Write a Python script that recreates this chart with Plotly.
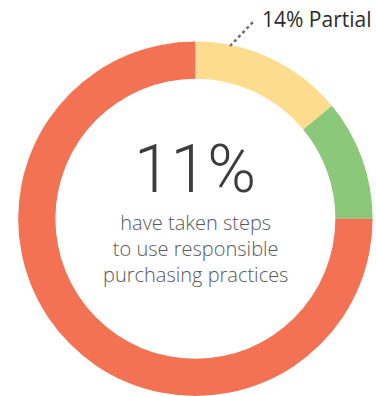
import plotly.graph_objects as go

# Share of respondents by purchasing-practice status
categories = ["Partial", "Have taken steps", "Not yet"]
shares = [14, 11, 75]
colors = ["#FEDC8E", "#8CC879", "#F37253"]

headline = "11%"
subtitle_lines = ["have taken steps", "to use responsible", "purchasing practices"]
callout = "14% Partial"

W, H = 376, 396

fig = go.Figure(
    go.Pie(
        labels=categories,
        values=shares,
        hole=0.79,
        sort=False,
        direction="clockwise",
        rotation=0,
        marker=dict(colors=colors, line=dict(width=0)),
        textinfo="none",
        hoverinfo="label+percent",
        showlegend=False,
        domain=dict(x=[0.0463, 0.993], y=[0.0, 0.895]),
    )
)

fig.add_annotation(
    text=headline, x=0.519, y=0.573, xref="paper", yref="paper",
    showarrow=False, xanchor="center", yanchor="middle",
    font=dict(family="Roboto", size=66, color="#3d3d3d", weight=300),
)
fig.add_annotation(
    text="<br>".join(subtitle_lines), x=0.52, y=0.372, xref="paper", yref="paper",
    showarrow=False, xanchor="center", yanchor="middle",
    font=dict(family="Open Sans", size=20, color="#58595b", weight=300),
)
fig.add_annotation(
    text=callout, x=0.692, y=0.953, xref="paper", yref="paper",
    showarrow=False, xanchor="left", yanchor="middle",
    font=dict(family="Open Sans", size=21, color="#2b2b2b"),
)

# dashed leader from the ring to the callout text
fig.add_shape(
    type="line", xref="paper", yref="paper",
    x0=230 / W, y0=1 - 46 / H, x1=255 / W, y1=1 - 20 / H,
    line=dict(color="#6d6e70", width=2.5, dash="3px,3px"),
)

fig.update_layout(
    width=W, height=H,
    margin=dict(l=0, r=0, t=0, b=0),
    paper_bgcolor="white", plot_bgcolor="white",
)

fig.write_html("out.html")
